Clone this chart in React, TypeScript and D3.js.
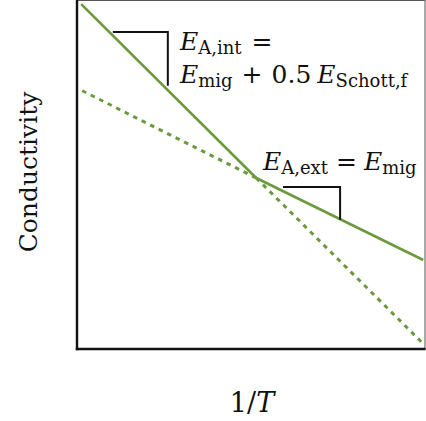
import React from "react";
import * as d3 from "d3";

const W = 426;
const H = 421;

// Conceptual data: x = 1/T (arbitrary units), y = log conductivity (arbitrary units)
const intrinsicSolid = [
  { x: 0.012, y: 0.988 },
  { x: 0.515, y: 0.49 },
];
const extrinsicSolid = [
  { x: 0.515, y: 0.49 },
  { x: 0.995, y: 0.255 },
];
const extrinsicDotted = [
  { x: 0.015, y: 0.74 },
  { x: 0.515, y: 0.49 },
];
const intrinsicDotted = [
  { x: 0.515, y: 0.49 },
  { x: 0.99, y: 0.02 },
];
// slope triangles
const triangleInt = [
  { x: 0.103, y: 0.908 },
  { x: 0.261, y: 0.908 },
  { x: 0.261, y: 0.754 },
];
const triangleExt = [
  { x: 0.592, y: 0.464 },
  { x: 0.756, y: 0.464 },
  { x: 0.756, y: 0.37 },
];

const yLabel = "Conductivity";

const GREEN = "#6b9a3c";

export default function App() {
  const left = 77;
  const right = 425;
  const top = 0;
  const bottom = 349;
  const x = d3.scaleLinear().domain([0, 1]).range([left, right]);
  const y = d3.scaleLinear().domain([0, 1]).range([bottom, top]);
  const line = d3
    .line<{ x: number; y: number }>()
    .x((d) => x(d.x))
    .y((d) => y(d.y));

  const mathFont = "DejaVu Serif";
  const big = 25;
  const sub = 18;

  return (
    <svg
      width={W}
      height={H}
      style={{ position: "absolute", left: 0, top: 0, background: "#fff" }}
    >
      <rect x={0} y={0} width={W} height={H} fill="#fff" />
      {/* frame */}
      <rect
        x={left}
        y={0.5}
        width={right - left}
        height={bottom - 0.5}
        fill="none"
        stroke="#555"
        strokeWidth={1}
      />
      <line x1={left} x2={left} y1={0} y2={bottom + 1.2} stroke="#111" strokeWidth={2.4} />
      <line x1={left - 1.2} x2={right + 0.5} y1={bottom} y2={bottom} stroke="#111" strokeWidth={2.6} />

      {/* dotted extensions */}
      <path d={line(extrinsicDotted) || ""} fill="none" stroke={GREEN} strokeWidth={3} strokeDasharray="4.5 5" />
      <path d={line(intrinsicDotted) || ""} fill="none" stroke={GREEN} strokeWidth={3} strokeDasharray="4.5 5" />
      {/* solid lines */}
      <path d={line(intrinsicSolid) || ""} fill="none" stroke={GREEN} strokeWidth={2.6} />
      <path d={line(extrinsicSolid) || ""} fill="none" stroke={GREEN} strokeWidth={2.6} />

      {/* slope triangles */}
      <path d={line(triangleInt) || ""} fill="none" stroke="#111" strokeWidth={2} />
      <path d={line(triangleExt) || ""} fill="none" stroke="#111" strokeWidth={2} />

      {/* annotations */}
      <g fontFamily={mathFont} fill="#111">
        <text x={180} y={50} fontSize={big}>
          <tspan fontStyle="italic">E</tspan>
          <tspan fontSize={sub} dy={4}>A,int</tspan>
          <tspan dy={-4} dx={10}>=</tspan>
        </text>
        <text x={180} y={83} fontSize={big}>
          <tspan fontStyle="italic">E</tspan>
          <tspan fontSize={sub} dy={4}>mig</tspan>
          <tspan dy={-4} dx={9}>+</tspan>
          <tspan dx={9}>0.5</tspan>
          <tspan dx={6} fontStyle="italic">E</tspan>
          <tspan fontSize={sub} dy={4}>Schott,f</tspan>
        </text>
        <text x={263} y={170} fontSize={big}>
          <tspan fontStyle="italic">E</tspan>
          <tspan fontSize={sub} dy={4}>A,ext</tspan>
          <tspan dy={-4} dx={8}>=</tspan>
          <tspan dx={7} fontStyle="italic">E</tspan>
          <tspan fontSize={sub} dy={4}>mig</tspan>
        </text>

        {/* axis labels */}
        <text x={252} y={412} textAnchor="middle" fontSize={27}>
          <tspan>1/</tspan>
          <tspan fontStyle="italic">T</tspan>
        </text>
        <text
          transform={`translate(37, ${(92 + 252) / 2}) rotate(-90)`}
          textAnchor="middle"
          fontSize={25}
        >
          {yLabel}
        </text>
      </g>
    </svg>
  );
}
